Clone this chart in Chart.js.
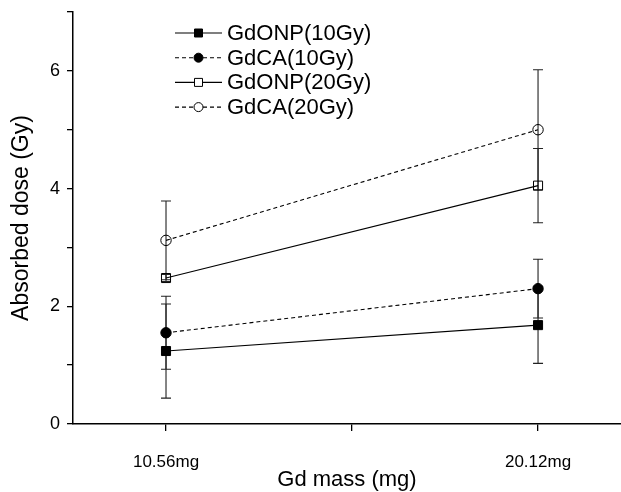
<!DOCTYPE html>
<html>
<head>
<meta charset="utf-8">
<script src="https://cdn.jsdelivr.net/npm/chart.js@4.4.0/dist/chart.umd.min.js"></script>
<style>
  html, body { margin: 0; padding: 0; background: #fff; }
  #wrap { width: 621px; height: 492px; }
</style>
</head>
<body>
<div id="wrap"><canvas id="chart" width="621" height="492"></canvas></div>
<script>
// two Gd masses, placed at 1 and 3 on a linear axis (unlabelled middle tick at 2)
const massLabels = ['10.56mg', '20.12mg']
const massPos = [1, 3]
const xTicks = [1, 2, 3]
const yTicks = [0, 1, 2, 3, 4, 5, 6, 7]

const onp10 = [1.24, 1.68]
const onp10Err = [0.80, 0.65]
const ca10 = [1.55, 2.30]
const ca10Err = [0.62, 0.50]
const onp20 = [2.48, 4.05]
const onp20Err = [0.06, 0.63]
const ca20 = [3.12, 5.00]
const ca20Err = [0.67, 1.02]

const FONT = '"Liberation Sans", Arial, sans-serif'
Chart.defaults.font.family = FONT
Chart.defaults.color = '#000'

function points(vals) {
  return massPos.map((x, i) => ({ x: x, y: vals[i] }))
}

function series(label, vals, errs, style, filled, dashed) {
  return {
    label: label,
    data: points(vals),
    errors: errs,
    borderColor: '#000',
    borderWidth: 1.1,
    borderDash: dashed ? [4, 3] : [],
    pointStyle: style,
    pointRadius: style === 'rect' ? 6.4 : 5.2,
    pointBackgroundColor: filled ? '#000' : 'transparent',
    pointBorderColor: '#000',
    pointBorderWidth: 1,
    tension: 0,
    fill: false,
    clip: false
  }
}

// vertical error bars, drawn under the markers
const errorBars = {
  id: 'errorBars',
  beforeDatasetsDraw(chart) {
    const { ctx, scales: { x, y } } = chart
    ctx.save()
    ctx.strokeStyle = '#222'
    ctx.lineWidth = 1.1
    chart.data.datasets.forEach(ds => {
      ds.data.forEach((p, i) => {
        const px = x.getPixelForValue(p.x)
        const top = y.getPixelForValue(p.y + ds.errors[i])
        const bot = y.getPixelForValue(p.y - ds.errors[i])
        ctx.beginPath()
        ctx.moveTo(px, top); ctx.lineTo(px, bot)
        ctx.moveTo(px - 5, top); ctx.lineTo(px + 5, top)
        ctx.moveTo(px - 5, bot); ctx.lineTo(px + 5, bot)
        ctx.stroke()
      })
    })
    ctx.restore()
  }
}

// legend inside the plot: short line with marker, then the label
const plotLegend = {
  id: 'plotLegend',
  afterDraw(chart) {
    const ctx = chart.ctx
    ctx.save()
    ctx.font = '22px ' + FONT
    ctx.textBaseline = 'middle'
    chart.data.datasets.forEach((ds, i) => {
      const yy = 33 + i * 24.7
      ctx.strokeStyle = '#000'
      ctx.lineWidth = ds.borderWidth
      ctx.setLineDash(ds.borderDash)
      ctx.beginPath(); ctx.moveTo(175, yy); ctx.lineTo(222, yy); ctx.stroke()
      ctx.setLineDash([])
      ctx.fillStyle = ds.pointBackgroundColor === 'transparent' ? '#fff' : '#000'
      ctx.lineWidth = 1
      ctx.beginPath()
      if (ds.pointStyle === 'rect') ctx.rect(198.5 - 4, yy - 4, 8, 8)
      else ctx.arc(198.5, yy, 4.5, 0, Math.PI * 2)
      ctx.fill(); ctx.stroke()
      ctx.fillStyle = '#000'
      ctx.fillText(ds.label, 227, yy + 1)
    })
    ctx.restore()
  }
}

new Chart(document.getElementById('chart'), {
  type: 'line',
  data: {
    datasets: [
      series('GdONP(10Gy)', onp10, onp10Err, 'rect', true, false),
      series('GdCA(10Gy)', ca10, ca10Err, 'circle', true, true),
      series('GdONP(20Gy)', onp20, onp20Err, 'rect', false, false),
      series('GdCA(20Gy)', ca20, ca20Err, 'circle', false, true)
    ]
  },
  options: {
    responsive: false,
    animation: false,
    devicePixelRatio: 1,
    layout: { autoPadding: false, padding: { top: 12, left: 0, right: 0, bottom: 0 } },
    plugins: {
      legend: { display: false },
      tooltip: { enabled: false }
    },
    scales: {
      x: {
        type: 'linear',
        min: 0.5,
        max: 3.446,
        afterBuildTicks: s => { s.ticks = xTicks.map(v => ({ value: v })) },
        afterFit: s => { s.height = 68; s.paddingLeft = 0; s.paddingRight = 0 },
        ticks: {
          font: { size: 17 },
          padding: 21,
          maxRotation: 0,
          autoSkip: false,
          callback: v => {
            const i = massPos.indexOf(v)
            return i < 0 ? '' : massLabels[i]
          }
        },
        grid: { drawOnChartArea: false, color: '#000', tickLength: 7, lineWidth: 1.3 },
        border: { color: '#000', width: 1.5 },
        title: { display: true, text: 'Gd mass (mg)', font: { size: 22, lineHeight: 1.1 }, padding: { top: 0, bottom: 0 } }
      },
      y: {
        type: 'linear',
        min: 0,
        max: 7,
        afterBuildTicks: s => { s.ticks = yTicks.map(v => ({ value: v })) },
        afterFit: s => { s.width = 73; s.paddingTop = 0; s.paddingBottom = 0 },
        ticks: {
          font: { size: 18 },
          padding: 7,
          callback: v => (v % 2 === 0 && v < 7 ? String(v) : '')
        },
        grid: { drawOnChartArea: false, color: '#000', tickLength: 6, lineWidth: 1.3 },
        border: { color: '#000', width: 1.5 },
        title: { display: true, text: 'Absorbed dose (Gy)', font: { size: 23, lineHeight: 1.2 }, padding: { top: 8, bottom: 0 } }
      }
    }
  },
  plugins: [errorBars, plotLegend]
})
</script>
</body>
</html>
